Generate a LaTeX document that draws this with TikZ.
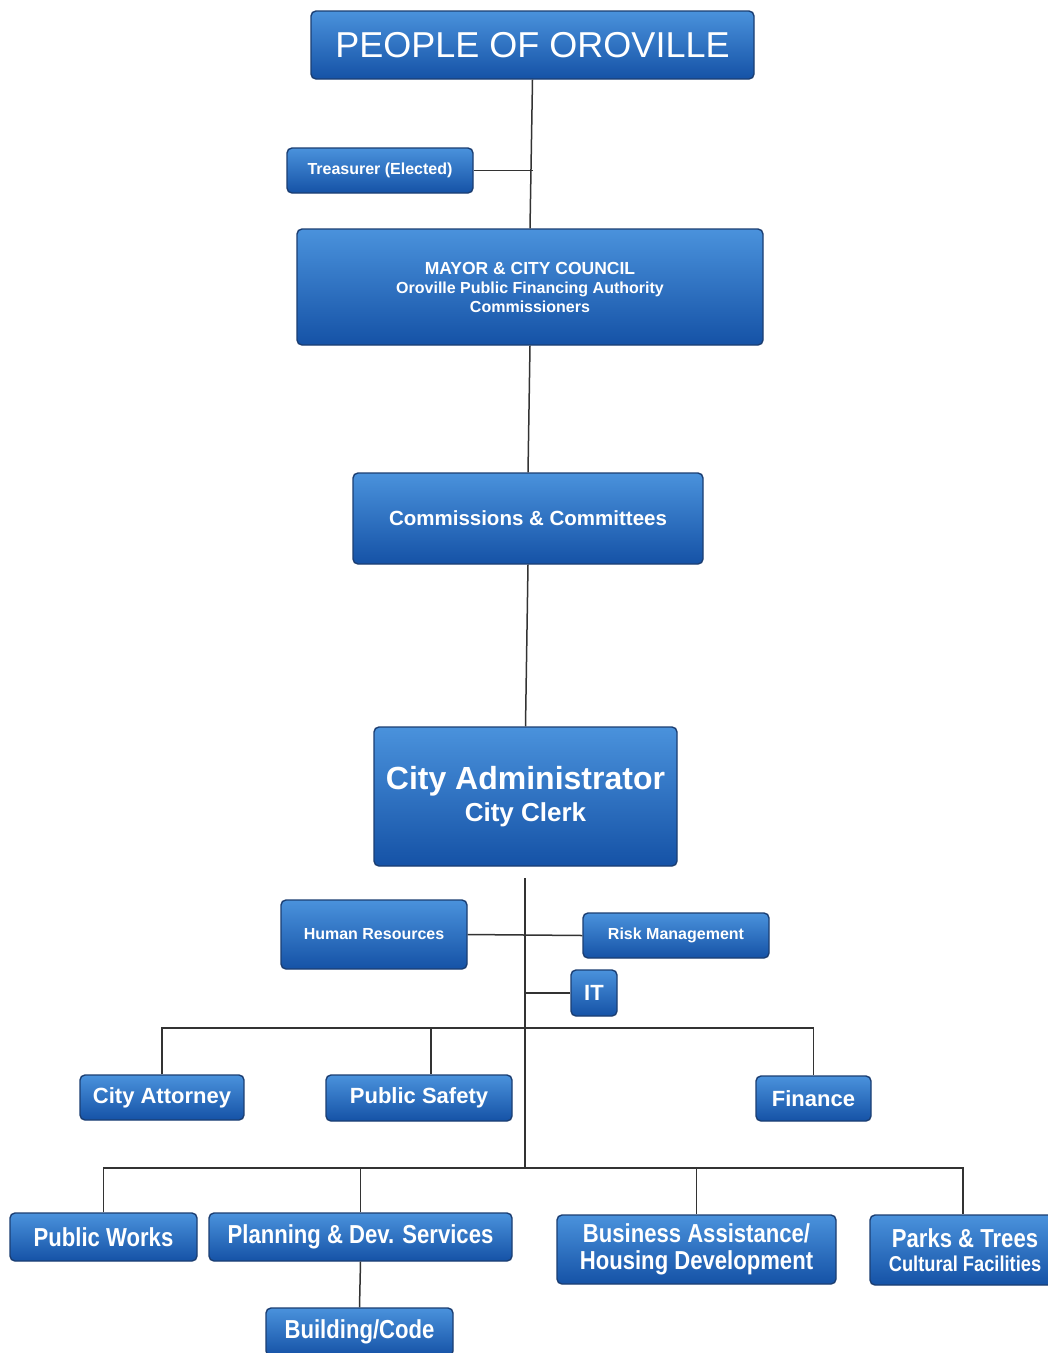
\documentclass[tikz,border=0pt]{standalone}
\usepackage{fontspec}
\setmainfont{Liberation Sans}
\newfontfamily\narrowfont[FakeStretch=0.85]{Liberation Sans}
\definecolor{boxTop}{HTML}{4A92DC}
\definecolor{boxBot}{HTML}{1552A6}
\definecolor{boxEdge}{HTML}{1B3E72}
\definecolor{lineC}{HTML}{333333}
\tikzset{
  orgbox/.style={draw=boxEdge, line width=1.4pt, rounded corners=5pt,
    top color=boxTop, bottom color=boxBot, text=white, align=center,
    inner sep=0pt},
  conn/.style={draw=lineC, line width=1.5pt}
}
\begin{document}
\begin{tikzpicture}[x=1pt,y=-1pt]
\useasboundingbox (0,0) rectangle (1048,1353);
\fill[white] (0,0) rectangle (1048,1353);

\node[orgbox, minimum width=443pt, minimum height=68pt, font=\fontsize{36}{40}\selectfont] (people) at (532.5,45) {PEOPLE OF OROVILLE};
\node[orgbox, minimum width=186pt, minimum height=45pt, font=\bfseries\fontsize{16}{18}\selectfont] (treas) at (380,170.5) {Treasurer (Elected)};
\node[orgbox, minimum width=466pt, minimum height=116pt, font=\bfseries\fontsize{16}{19}\selectfont] (mayor) at (530,287) {{\fontsize{17.5}{19}\selectfont MAYOR \& CITY COUNCIL}\\Oroville Public Financing Authority\\Commissioners};
\node[orgbox, minimum width=350pt, minimum height=91pt, font=\bfseries\fontsize{20.5}{24}\selectfont] (comm) at (528,518.5) {Commissions \& Committees};
\node[orgbox, minimum width=303pt, minimum height=139pt, font=\bfseries\fontsize{32}{32}\selectfont] (admin) at (525.5,796.5) {City Administrator\\{\fontsize{26}{30}\selectfont City Clerk}};

\node[orgbox, minimum width=186pt, minimum height=69pt, font=\bfseries\fontsize{16}{18}\selectfont] (hr) at (374,934.5) {Human Resources};
\node[orgbox, minimum width=186pt, minimum height=45pt, font=\bfseries\fontsize{16}{18}\selectfont] (rm) at (676,935.5) {Risk Management};
\node[orgbox, minimum width=46pt, minimum height=46pt, font=\bfseries\fontsize{22}{24}\selectfont] (it) at (594,993) {IT};

\node[orgbox, minimum width=164pt, minimum height=45pt, font=\bfseries\fontsize{22}{24}\selectfont] (atty) at (162,1097.5) {City Attorney};
\node[orgbox, minimum width=186pt, minimum height=46pt, font=\bfseries\fontsize{22}{24}\selectfont] (psafe) at (419,1098) {Public Safety};
\node[orgbox, minimum width=115pt, minimum height=45pt, font=\bfseries\fontsize{22}{24}\selectfont] (fin) at (813.5,1098.5) {Finance};

\node[orgbox, minimum width=187pt, minimum height=48pt, font=\narrowfont\bfseries\fontsize{26}{28}\selectfont] (pw) at (103.5,1237) {Public Works};
\node[orgbox, minimum width=303pt, minimum height=48pt, font=\narrowfont\bfseries\fontsize{26}{28}\selectfont] (plan) at (360.5,1237) {Planning \& Dev. Services};
\node[orgbox, minimum width=279pt, minimum height=69pt, font=\narrowfont\bfseries\fontsize{26}{27}\selectfont] (bus) at (696.5,1249.5) {Business Assistance/\\Housing Development};
\node[orgbox, minimum width=190pt, minimum height=70pt, font=\narrowfont\bfseries\fontsize{26}{24}\selectfont] (parks) at (965,1250) {Parks \& Trees\\{\fontsize{21.5}{24}\selectfont Cultural Facilities}};
\node[orgbox, minimum width=187pt, minimum height=48pt, font=\narrowfont\bfseries\fontsize{26}{28}\selectfont] (bldg) at (359.5,1332) {Building/Code};

% connectors
\draw[conn] (people.south) -- (mayor.north);
\draw[conn] (treas.east) -- (treas.east -| people.south);
\draw[conn] (mayor.south) -- (comm.north);
\draw[conn] (comm.south) -- (admin.north);

\coordinate (t0) at (525,878);
\coordinate (busM) at (525,1028);
\coordinate (busB) at (525,1168);
\draw[conn] (t0) -- (busB);
\draw[conn] (hr.east) -- (rm.west);
\draw[conn] (it.west) -- (it.west -| t0);

\coordinate (dPS) at (431,1028);
\draw[conn] (atty.north) |- (busM) -| (fin.north);
\draw[conn] (dPS) -- (dPS |- psafe.north);

\coordinate (dParks) at (963,1168);
\draw[conn] (pw.north) |- (busB) -| (dParks) -- (dParks |- parks.north);
\draw[conn] (plan.north) -- (plan.north |- busB);
\draw[conn] (bus.north) -- (bus.north |- busB);
\draw[conn] (plan.south) -- (bldg.north);
\end{tikzpicture}
\end{document}
